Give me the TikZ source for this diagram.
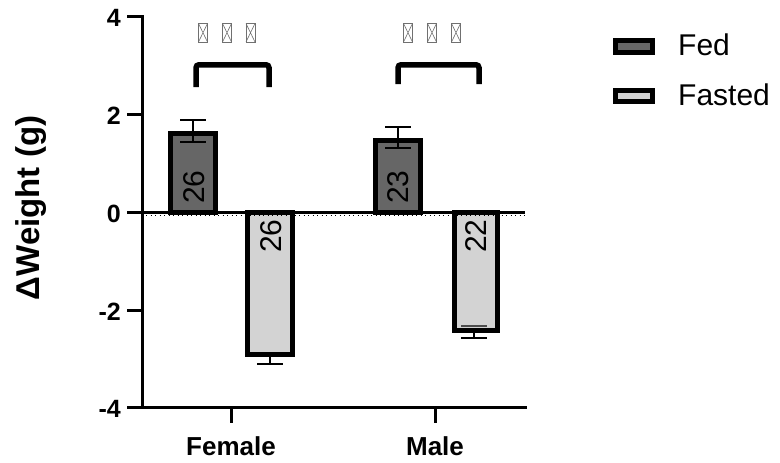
\documentclass[tikz,border=0pt]{standalone}
\usepackage{fontspec}
\setmainfont{Liberation Sans}
\definecolor{fedc}{HTML}{666666}
\definecolor{fastc}{HTML}{D3D3D3}
\definecolor{tofu}{HTML}{707070}
\begin{document}
\begin{tikzpicture}[x=1pt,y=-1pt,
  axisline/.style={line width=3pt},
  fedbar/.style={fill=fedc,draw=black,line width=5pt},
  fastbar/.style={fill=fastc,draw=black,line width=5pt},
  errbar/.style={line width=2.2pt,black},
  bracketline/.style={line width=5.5pt,rounded corners=3pt},
  tofubox/.style={draw=tofu,line width=1pt},
  ticklab/.style={anchor=east,font=\fontsize{25}{25}\selectfont\bfseries,inner sep=0pt},
  catlab/.style={anchor=base,font=\fontsize{26}{26}\selectfont\bfseries,inner sep=0pt},
  nlab/.style={rotate=90,font=\fontsize{30}{30}\selectfont,inner sep=0pt},
  leglab/.style={anchor=base west,font=\fontsize{30}{30}\selectfont,inner sep=0pt}]
\useasboundingbox (0,0) rectangle (780,463);
% bars
\draw[fedbar]  (170.5,212) rectangle (215.5,133.5);
\draw[fastbar] (247.5,212) rectangle (292.5,354.5);
\draw[fedbar]  (375.5,212) rectangle (420.5,140.5);
\draw[fastbar] (454.5,212) rectangle (497.5,330);
% error bars
\draw[errbar] (193,120) -- (193,142) (180,120) -- (206,120) (180,142) -- (206,142);
\draw[errbar] (398,127) -- (398,148) (385,127) -- (411,127) (385,148) -- (411,148);
\draw[errbar] (270,356) -- (270,364) (257,364) -- (283,364);
\draw[errbar] (474,332) -- (474,338) (461,338) -- (487,338);
\draw[errbar,line width=1.5pt,black!70] (461,326) -- (487,326);
% zero line and dotted grid
\draw[line width=0.7pt,dash pattern=on 1pt off 3.5pt] (146,215) -- (527,215);
\draw[line width=3pt] (142,212) -- (525,212);
% axes
\draw[axisline] (142,15) -- (142,407) -- (527,407);
\foreach \yy in {16,114,212,310,407} \draw[axisline] (127,\yy) -- (142,\yy);
\draw[axisline] (231,407) -- (231,423);
\draw[axisline] (435,407) -- (435,423);
\node[ticklab] (t4) at (121,18) {4};
\node[ticklab] (t2) at (121,116) {2};
\node[ticklab] (t0) at (121,214) {0};
\node[ticklab] (tm2) at (121,312) {-2};
\node[ticklab] (tm4) at (121,409) {-4};
\node[rotate=90,font=\fontsize{33}{33}\selectfont\bfseries,inner sep=0pt] (ylab) at (31,208) {ΔWeight (g)};
\node[catlab] (female) at (231,455) {Female};
\node[catlab] (male) at (435,455) {Male};
% numbers in bars
\node[nlab] (n1) at (194,187) {26};
\node[nlab] (n2) at (271,236) {26};
\node[nlab] (n3) at (398,187) {23};
\node[nlab] (n4) at (476,236) {22};
% brackets
\draw[bracketline] (196,87) -- (196,64.75) -- (269,64.75) -- (269,87);
\draw[bracketline] (398,84) -- (398,64.75) -- (479,64.75) -- (479,84);
% unrendered-glyph boxes
\foreach \xx in {198.5,222.5,246,403.5,427.5,451.5}{
  \draw[tofubox] (\xx,23.5) rectangle ++(9,18.5);
  \draw[tofubox,line width=0.6pt] (\xx,23.5) -- ++(9,18.5) (\xx+9,23.5) -- ++(-9,18.5);
}
% legend
\draw[fedbar]  (615.5,40.5) rectangle (652.5,52);
\draw[fastbar] (615.5,90.5) rectangle (652.5,101.5);
\node[leglab] (lfed) at (678,55) {Fed};
\node[leglab] (lfast) at (678,105) {Fasted};
\end{tikzpicture}
\end{document}
